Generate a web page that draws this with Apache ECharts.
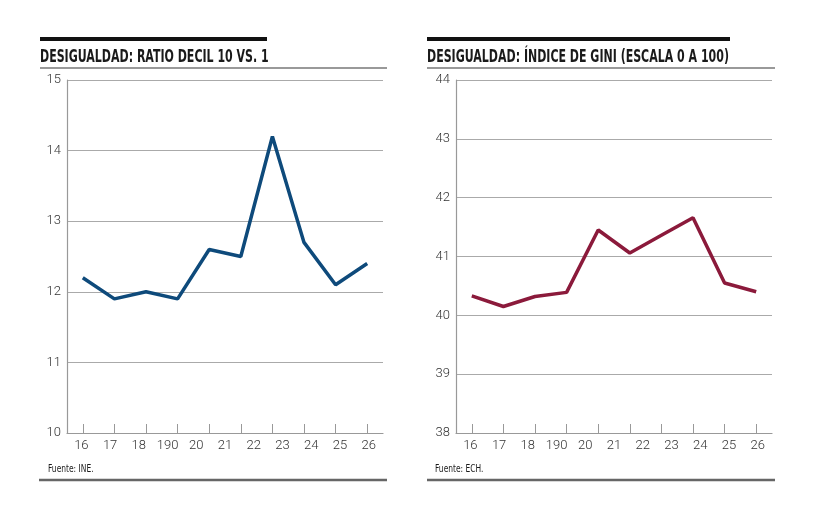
<!DOCTYPE html>
<html>
<head>
<meta charset="utf-8">
<script src="https://cdn.jsdelivr.net/npm/echarts@6/dist/echarts.min.js"></script>
<style>
  html, body { margin: 0; padding: 0; background: #fff; }
  #main { width: 833px; height: 524px; }
</style>
</head>
<body>
<div id="main"></div>
<script>
// points (10) and the printed year labels (11, as in the original graphic)
const pointCats = ['p1', 'p2', 'p3', 'p4', 'p5', 'p6', 'p7', 'p8', 'p9', 'p10'];
const yearLabels = ['16', '17', '18', '190', '20', '21', '22', '23', '24', '25', '26'];
const ratioValues = [12.2, 11.9, 12.0, 11.9, 12.6, 12.5, 14.2, 12.7, 12.1, 12.4];
const giniValues = [40.33, 40.15, 40.32, 40.39, 41.45, 41.06, 41.36, 41.66, 40.55, 40.40];

const labelFont = 'Roboto, "Liberation Sans", sans-serif';
const titleFont = '"DejaVu Sans Condensed", "DejaVu Sans", sans-serif';

function pointAxis(grid) {
    return {
        type: 'category',
        gridIndex: grid,
        data: pointCats,
        axisLine: { lineStyle: { color: '#999', width: 1.2 } },
        axisTick: { show: true, inside: true, length: 9, alignWithLabel: true, lineStyle: { color: '#999' } },
        axisLabel: { show: false }
    };
}
function labelAxis(grid) {
    return {
        type: 'category',
        gridIndex: grid,
        position: 'bottom',
        data: yearLabels,
        axisLine: { show: false },
        axisTick: { show: false },
        axisLabel: { margin: 6, color: '#333', fontSize: 13, fontFamily: labelFont, fontWeight: 300, interval: 0 }
    };
}
function valueAxis(grid, min, max) {
    return {
        type: 'value',
        gridIndex: grid,
        min: min,
        max: max,
        interval: 1,
        axisLine: { show: true, lineStyle: { color: '#999', width: 1.2 } },
        axisTick: { show: false },
        splitLine: { lineStyle: { color: '#aaa', width: 1 } },
        axisLabel: { margin: 6, color: '#333', fontSize: 13, fontFamily: labelFont, fontWeight: 300 }
    };
}
// condensed text: the print face is much narrower than any installed font
function narrowText(x, y, text, size, weight, scale) {
    return {
        type: 'text',
        x: x, y: y,
        scaleX: scale,
        style: {
            x: 0, y: 0,
            text: text,
            fontFamily: titleFont,
            fontSize: size,
            fontWeight: weight,
            fill: '#1a1a1a',
            verticalAlign: 'middle'
        }
    };
}

var option = {
    animation: false,
    graphic: [
        { type: 'rect', shape: { x: 40, y: 37, width: 227, height: 4 }, style: { fill: '#111' } },
        { type: 'rect', shape: { x: 427, y: 37, width: 303, height: 4 }, style: { fill: '#111' } },
        narrowText(40, 57.5, 'DESIGUALDAD: RATIO DECIL 10 VS. 1', 17, 'bold', 0.72),
        narrowText(427, 57.5, 'DESIGUALDAD: ÍNDICE DE GINI (ESCALA 0 A 100)', 17, 'bold', 0.72),
        narrowText(48, 469, 'Fuente: INE.', 11, 'normal', 0.76),
        narrowText(435, 469, 'Fuente: ECH.', 11, 'normal', 0.76),
        { type: 'line', shape: { x1: 40, y1: 68, x2: 387, y2: 68 }, style: { stroke: '#777', lineWidth: 1.5 } },
        { type: 'line', shape: { x1: 427, y1: 68, x2: 775, y2: 68 }, style: { stroke: '#777', lineWidth: 1.5 } },
        { type: 'line', shape: { x1: 39, y1: 480, x2: 387, y2: 480 }, style: { stroke: '#666', lineWidth: 2.5 } },
        { type: 'line', shape: { x1: 427, y1: 480, x2: 775, y2: 480 }, style: { stroke: '#666', lineWidth: 2.5 } }
    ],
    grid: [
        { left: 67, top: 80, width: 316, height: 353 },
        { left: 456, top: 80, width: 316, height: 353 }
    ],
    xAxis: [pointAxis(0), labelAxis(0), pointAxis(1), labelAxis(1)],
    yAxis: [valueAxis(0, 10, 15), valueAxis(1, 38, 44)],
    series: [{
        name: 'Ratio decil 10 vs. 1',
        type: 'line',
        xAxisIndex: 0,
        yAxisIndex: 0,
        data: ratioValues,
        showSymbol: false,
        lineStyle: { color: '#0e4a7b', width: 3.5 }
    }, {
        name: 'Índice de Gini',
        type: 'line',
        xAxisIndex: 2,
        yAxisIndex: 1,
        data: giniValues,
        showSymbol: false,
        lineStyle: { color: '#8b1a3b', width: 3.5 }
    }]
};

var chart = echarts.init(document.getElementById('main'));
chart.setOption(option);
window.addEventListener('resize', function() {
    chart.resize();
});
</script>
</body>
</html>
